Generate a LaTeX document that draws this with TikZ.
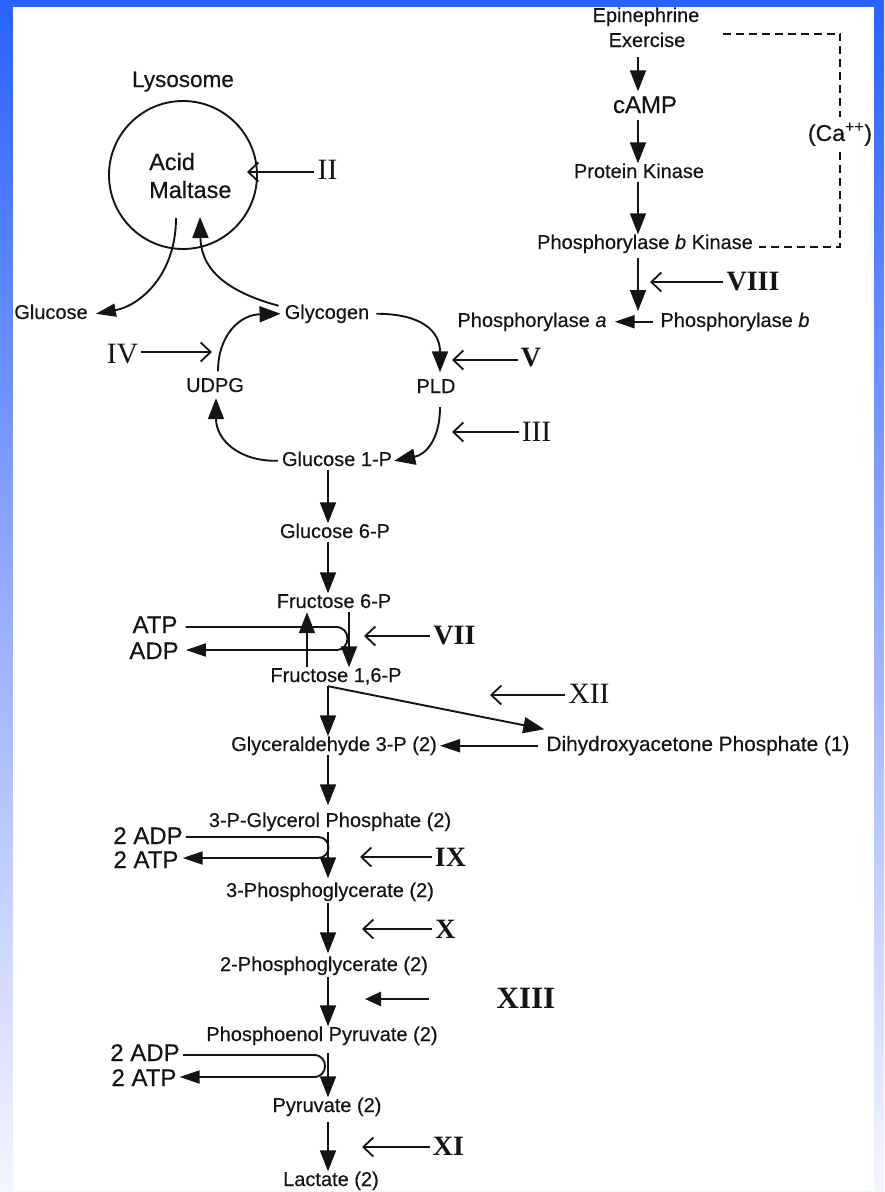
\documentclass[tikz,border=0pt]{standalone}
\usepackage{fontspec}
\setmainfont{Liberation Sans}[FakeBold=0.35]
\newfontfamily\rmn{Liberation Serif}
\usetikzlibrary{arrows.meta}
\definecolor{topblue}{RGB}{41,98,255}
\definecolor{midblue}{RGB}{150,172,255}
\definecolor{botblue}{RGB}{244,246,255}
\definecolor{ink}{RGB}{20,20,20}
\begin{document}
\begin{tikzpicture}[x=1pt,y=-1pt,
  txt/.style={inner sep=0pt, anchor=base, text=ink, text height=14.5pt, text depth=4pt, font=\fontsize{20}{24}\selectfont},
  bigt/.style={inner sep=0pt, anchor=base, text=ink, text height=17.5pt, text depth=5pt, font=\fontsize{24}{28}\selectfont},
  rn/.style={inner sep=3pt, text=ink, font=\rmn\fontsize{29.5}{30}\selectfont},
  rnb/.style={inner sep=3pt, text=ink, font=\rmn\bfseries\fontsize{28}{30}\selectfont},
  ln/.style={line width=1.9pt, draw=ink},
  pa/.style={ln, -{Triangle[length=21pt,width=16pt]}},
  pah/.style={ln, -{Triangle[length=20pt,width=13pt]}},
  inh/.style={line width=1.6pt, draw=ink, -{Straight Barb[length=10pt,width=19pt,line width=1.8pt]}},
  dsh/.style={ln, dash pattern=on 8pt off 5pt},
]
\useasboundingbox (0,0) rectangle (884,1192);
\shade[top color=topblue, bottom color=botblue, middle color=midblue] (0,0) rectangle (884,1192);
\fill[white] (13,7) rectangle (874,1191);

% ---- nodes
\node[bigt, font=\fontsize{22.5}{27}\selectfont] (lys) at (183,87) {Lysosome};
\node[circle, draw=ink, line width=1.9pt, minimum size=148pt, inner sep=0pt] (am) at (183,175) {};
\node[bigt, anchor=base west, font=\fontsize{23.5}{28}\selectfont] (acid) at (149,170) {Acid};
\node[bigt, anchor=base west, font=\fontsize{23.5}{28}\selectfont] (malt) at (149,198) {Maltase};
\node[txt] (glc) at (51,319) {Glucose};
\node[txt] (gly) at (327,319) {Glycogen};
\node[txt] (udpg) at (215,392) {UDPG};
\node[txt] (pld) at (436,393) {PLD};
\node[txt] (g1p) at (337,466) {Glucose 1-P};
\node[txt] (g6p) at (335,538) {Glucose 6-P};
\node[txt] (f6p) at (334,608) {Fructose 6-P};
\node[bigt] (atp1) at (155,633) {ATP};
\node[bigt] (adp1) at (154,659) {ADP};
\node[txt] (f16p) at (336,682) {Fructose 1,6-P};
\node[txt] (g3p) at (334,751) {Glyceraldehyde 3-P (2)};
\node[txt, font=\fontsize{20.8}{24}\selectfont] (dhap) at (698,751) {Dihydroxyacetone Phosphate (1)};
\node[txt] (pgp) at (330,827) {3-P-Glycerol Phosphate (2)};
\node[bigt] (adp2) at (148,844) {2 ADP};
\node[bigt] (atp2) at (146,868) {2 ATP};
\node[txt] (pg3) at (330,897) {3-Phosphoglycerate (2)};
\node[txt] (pg2) at (324,971) {2-Phosphoglycerate (2)};
\node[txt] (pep) at (322,1041) {Phosphoenol Pyruvate (2)};
\node[bigt] (adp3) at (145,1061) {2 ADP};
\node[bigt] (atp3) at (144,1086) {2 ATP};
\node[txt] (pyr) at (327,1112) {Pyruvate (2)};
\node[txt] (lac) at (331,1186) {Lactate (2)};
\node[txt] (epi) at (646,22) {Epinephrine};
\node[txt] (exc) at (647,47) {Exercise};
\node[bigt] (camp) at (645,113) {cAMP};
\node[txt] (pk) at (639,178) {Protein Kinase};
\node[txt] (pbk) at (645,249) {Phosphorylase \textit{b} Kinase};
\node[txt] (pa) at (532,327) {Phosphorylase \textit{a}};
\node[txt] (pb) at (735,327) {Phosphorylase \textit{b}};
\node[bigt, font=\fontsize{23}{27}\selectfont, inner sep=6pt] (ca) at (840,141) {(Ca\textsuperscript{++})};

% ---- roman numeral labels
\node[rn] (lII) at (327.5,170) {II};
\node[rn] (lIV) at (122.5,354) {IV};
\node[rnb] (lV) at (531,358) {V};
\node[rn] (lIII) at (536.5,432) {III};
\node[rnb] (lVIII) at (753,282) {VIII};
\node[rnb] (lVII) at (454.5,636) {VII};
\node[rn] (lXII) at (589,694) {XII};
\node[rnb] (lIX) at (450.5,857) {IX};
\node[rnb] (lX) at (445.5,929) {X};
\node[rnb, font=\rmn\bfseries\fontsize{31}{32}\selectfont] (lXIII) at (526,998) {XIII};
\node[rnb] (lXI) at (448.5,1146) {XI};

% ---- coordinates
\coordinate (cx) at (328,0);
\coordinate (ux) at (307,0);
\coordinate (dx) at (349,0);
\coordinate (rx) at (638,0);
\coordinate (jn) at (638,311);
\coordinate (tII) at (247,172);
\coordinate (tIV) at (212,352);
\coordinate (tV) at (452,360);
\coordinate (tIII) at (452,432);
\coordinate (tVIII) at (650,282);
\coordinate (tVII) at (364,636);
\coordinate (tXII) at (490,695);
\coordinate (tIX) at (360,857);
\coordinate (tX) at (362,929);
\coordinate (sXIII) at (429,999);
\coordinate (tXIII) at (365,999);
\coordinate (tXI) at (362,1147);
\coordinate (la1) at (336,627);
\coordinate (lb1) at (336,650);
\coordinate (la2) at (318,837);
\coordinate (lb2) at (318,858);
\coordinate (la3) at (314,1055);
\coordinate (lb3) at (314,1077);

% ---- glycogen cycle and lysosome
\draw[pah] ([shift={(-7pt,-43pt)}]am.center) .. controls +(0,57) and +(44,-8) .. ([xshift=8pt]glc.east);
\draw[pa] ([shift={(-6pt,8pt)}]gly.west) .. controls +(-59,-16) and +(1,48) .. ([shift={(17pt,-42pt)}]am.center);
\draw[pa] ([shift={(3pt,6pt)}]udpg.north) .. controls +(0,-36) and +(-41,1) .. ([xshift=-4pt]gly.west);
\draw[pa] ([xshift=7pt]gly.east) .. controls +(44,0) and +(0,-42) .. ([shift={(4pt,6pt)}]pld.north);
\draw[pa] ([shift={(4pt,-10pt)}]pld.south) .. controls +(0,33) and +(31,-6) .. ([xshift=2pt]g1p.east);
\draw[pa] ([xshift=-4pt]g1p.west) .. controls +(-38,1) and +(0,42) .. ([shift={(1pt,-2pt)}]udpg.south);

% ---- glycolysis column
\draw[pa] (g1p.south -| cx) -- (g6p.north -| cx);
\draw[pa] (g6p.south -| cx) -- (f6p.north -| cx);
\draw[pa] (f6p.south -| dx) -- (f16p.north -| dx);
\draw[pa] (f16p.north -| ux) -- (f6p.south -| ux);
\draw[pah] ([xshift=8pt]atp1.east |- la1) -- (la1) .. controls +(15.3,0) and +(15.3,0) .. (lb1) -- ([xshift=7pt]adp1.east |- lb1);
\draw[pa] (f16p.south -| cx) -- (g3p.north -| cx);
\draw[pa] (f16p.south -| cx) -- ([shift={(-2pt,7pt)}]dhap.north west);
\draw[pah] ([xshift=-8pt]dhap.west) -- ([xshift=3pt]g3p.east);
\draw[pa] (g3p.south -| cx) -- ([yshift=7pt]pgp.north -| cx);
\draw[pah] ([xshift=3pt]adp2.east |- la2) -- (la2) .. controls +(14,0) and +(14,0) .. (lb2) -- ([xshift=4pt]atp2.east |- lb2);
\draw[pa] ([yshift=-1pt]pgp.south -| cx) -- ([yshift=4pt]pg3.north -| cx);
\draw[pa] ([yshift=-2pt]pg3.south -| cx) -- ([yshift=3pt]pg2.north -| cx);
\draw[pa] ([yshift=-2pt]pg2.south -| cx) -- (pep.north -| cx);
\draw[pah] ([xshift=3pt]adp3.east |- la3) -- (la3) .. controls +(14.7,0) and +(14.7,0) .. (lb3) -- ([xshift=3pt]atp3.east |- lb3);
\draw[pa] ([yshift=-8pt]pep.south -| cx) -- (pyr.north -| cx);
\draw[pa] ([yshift=-6pt]pyr.south -| cx) -- (lac.north -| cx);

% ---- activation cascade
\draw[pa] ([yshift=-6pt]exc.south -| rx) -- ([yshift=4pt]camp.north -| rx);
\draw[pa] ([yshift=-2pt]camp.south -| rx) -- (pk.north -| rx);
\draw[pa] (pk.south -| rx) -- (pbk.north -| rx);
\draw[pa] ([yshift=-5pt]pbk.south -| rx) -- (jn);
\draw[pah] ([xshift=-7pt]pb.west) -- ([xshift=8pt]pa.east);
\draw[dsh] ([shift={(37pt,8pt)}]exc.east) -| (ca.north);
\draw[dsh] (ca.south) |- ([shift={(6pt,-3pt)}]pbk.east);

% ---- enzyme defect arrows
\draw[inh] (lII.west |- tII) -- (tII);
\draw[inh] (lIV.east |- tIV) -- (tIV);
\draw[inh] (lV.west |- tV) -- (tV);
\draw[inh] (lIII.west |- tIII) -- (tIII);
\draw[inh] (lVIII.west |- tVIII) -- (tVIII);
\draw[inh] (lVII.west |- tVII) -- (tVII);
\draw[inh] (lXII.west |- tXII) -- (tXII);
\draw[inh] (lIX.west |- tIX) -- (tIX);
\draw[inh] (lX.west |- tX) -- (tX);
\draw[ln, line width=2.6pt, -{Triangle[length=16pt,width=14pt]}] (sXIII) -- (tXIII);
\draw[inh] (lXI.west |- tXI) -- (tXI);
\end{tikzpicture}
\end{document}
